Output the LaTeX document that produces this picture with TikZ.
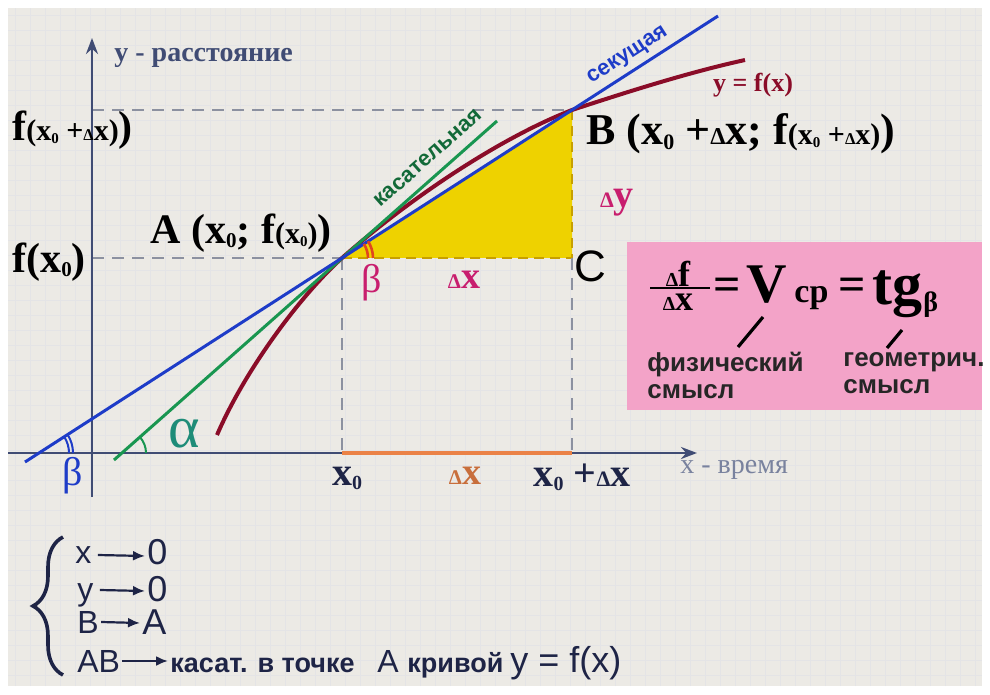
\documentclass[tikz,border=0pt]{standalone}
\usepackage{fontspec}
\usepackage{graphicx}
\setmainfont{Liberation Serif}
\setsansfont{Liberation Sans}
\usetikzlibrary{positioning,calc,arrows.meta,decorations.pathreplacing}

\definecolor{bgc}{RGB}{236,234,229}
\definecolor{gridc}{RGB}{228,228,230}
\definecolor{axisc}{RGB}{64,76,116}
\definecolor{secc}{RGB}{30,60,200}
\definecolor{tanc}{RGB}{25,150,80}
\definecolor{curvec}{RGB}{138,12,40}
\definecolor{dashc}{RGB}{140,145,160}
\definecolor{yellowc}{RGB}{238,210,0}
\definecolor{ochre}{RGB}{200,160,0}
\definecolor{magc}{RGB}{200,30,110}
\definecolor{orangec}{RGB}{235,130,70}
\definecolor{pinkc}{RGB}{243,163,200}
\definecolor{navy}{RGB}{30,36,70}
\definecolor{alphac}{RGB}{30,140,120}
\definecolor{arcc}{RGB}{225,70,30}

\newcommand{\dlt}{\scalebox{0.55}{Δ}}
\newcommand{\zs}{\raisebox{-0.1em}{\scalebox{0.5}{0}}}
\newcommand{\sml}[1]{{\fontsize{15}{15}\selectfont #1}}

\begin{document}
\begin{tikzpicture}[x=0.5pt,y=-0.5pt,
  every node/.style={inner sep=0pt},
  big/.style={font=\bfseries\fontsize{21}{23}\selectfont},
  dashln/.style={dashc, line width=0.9pt, dash pattern=on 6pt off 4pt},
  axis/.style={axisc, line width=1.3pt},
  sys/.style={navy, font=\sffamily\fontsize{16}{16}\selectfont, anchor=base west},
  sysbig/.style={navy, font=\sffamily\fontsize{18}{18}\selectfont, anchor=base west},
  syssm/.style={navy, font=\sffamily\bfseries\fontsize{13.5}{13.5}\selectfont, anchor=base west},
  sysarr/.style={navy, line width=1.1pt, -{Latex[length=6pt,width=5pt]}},
  mean/.style={font=\sffamily\bfseries\fontsize{13}{13.5}\selectfont, text=black!85, align=left, anchor=north west}]
\useasboundingbox (0,0) rectangle (990,695);
\fill[white] (0,0) rectangle (990,695);
\fill[bgc] (8,8) rectangle (982,686);
\draw[gridc, step=7.5pt] (8,8) grid (982,686);

\coordinate (A) at (342,258);
\coordinate (B) at (572,110);
\coordinate (C) at (572,258);
\coordinate (X0) at (342,453);
\coordinate (X1) at (572,453);
\coordinate (Y0) at (92,258);
\coordinate (Y1) at (92,110);
\coordinate (P) at (39,453);
\coordinate (Q) at (122,453);

\fill[yellowc] (A) -- (B) -- (C) -- cycle;
\draw[ochre, line width=0.9pt, dash pattern=on 5pt off 3pt] (B) -- (C) -- (A);
\draw[dashln] (Y1) -- (B);
\draw[dashln] (Y0) -- (A);
\draw[dashln] (A) -- (X0);
\draw[dashln] (C) -- (X1);

\draw[axis, -{Stealth[length=8pt,width=6pt]}] (8,453) -- (697,453);
\draw[axis, -{Stealth[length=8pt,width=6pt]}] (92,497) -- (92,38);
\draw[orangec, line width=2pt] (X0) -- (X1);

\draw[curvec, line width=2pt] (217,435) .. controls (245,370) and (300,296) .. (A)
  .. controls (410,198) and (500,138) .. (B) .. controls (630,91) and (690,72) .. (745,60);
\draw[tanc, line width=1.5pt] (114,460) -- (497,121);
\draw[secc, line width=1.5pt] (25,462) -- (718,16);

\draw[arcc, line width=1.3pt] (A) ++(13pt,0) arc[start angle=0, end angle=32.8, radius=13pt];
\draw[arcc, line width=1.3pt] (A) ++(15.5pt,0) arc[start angle=0, end angle=32.8, radius=15.5pt];
\draw[secc, line width=1pt] (P) ++(15pt,0) arc[start angle=0, end angle=32.8, radius=15pt];
\draw[secc, line width=1pt] (P) ++(17pt,0) arc[start angle=0, end angle=32.8, radius=17pt];
\draw[tanc, line width=1pt] (Q) ++(12pt,0) arc[start angle=0, end angle=41.5, radius=12pt];

\node[axisc, font=\bfseries\fontsize{14}{14}\selectfont, anchor=west] (ylab) at (114,58) {y - расстояние};
\node[axisc!70, font=\fontsize{14}{14}\selectfont, anchor=west] (xlab) at (680,470) {x - время};

\node[big, anchor=west] (fdx) at (12,130) {f\sml{(x\zs{} +\dlt x)})};
\node[big, anchor=west] (fx) at (12,262) {f(x\zs)};
\node[big, anchor=west] (Alab) at (150,233) {A (x\zs; f\sml{(x\zs)})};
\node[big, font=\bfseries\fontsize{22}{24}\selectfont, anchor=west] (Blab) at (586,134) {B (x\zs{} +\dlt x; f\sml{(x\zs{} +\dlt x)})};
\node[font=\sffamily\fontsize{22}{22}\selectfont] (Clab) at (590,266) {C};
\node[curvec, font=\bfseries\fontsize{13}{13}\selectfont] (flab) at (753,85) {y = f(x)};
\node[magc, font=\bfseries\fontsize{20}{20}\selectfont] (dy) at (617,203) {\dlt y};
\node[magc, font=\fontsize{20}{20}\selectfont] (bA) at (372,283) {β};
\node[magc, font=\bfseries\fontsize{19}{19}\selectfont] (dxA) at (464,280) {\dlt x};
\node[secc, font=\fontsize{20}{20}\selectfont] (bP) at (73,476) {β};
\node[alphac, font=\fontsize{30}{30}\selectfont] (al) at (184,434) {α};

\node[navy, font=\bfseries\fontsize{20}{20}\selectfont] (x0) at (347,478) {x\zs};
\node[orangec!85!black, font=\bfseries\fontsize{19}{19}\selectfont] (dxo) at (465,476) {\dlt x};
\node[navy, font=\bfseries\fontsize{20}{20}\selectfont] (x1) at (582,477) {x\zs{} +\dlt x};

\node[secc, rotate=32.8, font=\sffamily\bfseries\fontsize{11}{11}\selectfont] (sec) at (628,56) {секущая};
\node[tanc!70!black, rotate=41.5, font=\sffamily\bfseries\fontsize{11}{11}\selectfont] (tan) at (428,158) {касательная};

\fill[pinkc] (627,242) rectangle (982,410);
\node[font=\bfseries\fontsize{18}{18}\selectfont] (num) at (678,274) {\dlt f};
\node[font=\bfseries\fontsize{18}{18}\selectfont] (den) at (678,302) {\dlt x};
\draw[line width=1.4pt] (650,288) -- (710,288);
\node[font=\bfseries\fontsize{24}{24}\selectfont, anchor=base west] (eqa) at (713,300) {=};
\node[font=\bfseries\fontsize{28}{28}\selectfont, anchor=base west] (vel) at (746,302) {V};
\node[font=\bfseries\fontsize{17}{17}\selectfont, anchor=base west] (cp) at (794,302) {ср};
\node[font=\bfseries\fontsize{24}{24}\selectfont, anchor=base west] (eqb) at (838,300) {=};
\node[font=\bfseries\fontsize{30}{30}\selectfont, anchor=base west] (tg) at (872,305) {tg};
\node[font=\bfseries\fontsize{14}{14}\selectfont, anchor=base west] (tb) at (923,311) {β};
\coordinate (s1a) at (763,317);
\coordinate (s1b) at (738,347);
\coordinate (s2a) at (902,330);
\coordinate (s2b) at (887,348);
\draw[line width=1.6pt] (s1a) -- (s1b);
\draw[line width=1.6pt] (s2a) -- (s2b);
\node[mean] (phys) at (647,352) {физический\\смысл};
\node[mean] (geom) at (843,352) {геометрич.\\смысл};

\draw[navy, line width=1.8pt, decorate, decoration={brace, amplitude=15pt}] (63,675) -- (63,537);
\node[sys] (r1a) at (75,563) {x};
\node[sysbig] (r1b) at (147,564) {0};
\node[sys] (r2a) at (77,600) {y};
\node[sysbig] (r2b) at (147,601) {0};
\node[sys] (r3a) at (77,633) {B};
\node[sysbig] (r3b) at (142,634) {A};
\node[sys] (r4a) at (77,672) {AB};
\node[syssm] (r4b) at (170,672) {касат. в точке};
\node[sys] (r4c) at (377,672) {А};
\node[syssm] (r4d) at (407,672) {кривой};
\node[sys, font=\sffamily\fontsize{18}{18}\selectfont] (r4e) at (510,672) {y = f(x)};
\draw[sysarr] ([xshift=3pt,yshift=4pt]r1a.base east) -- ([xshift=-1pt,yshift=4pt]r1b.base west);
\draw[sysarr] ([xshift=3pt,yshift=5pt]r2a.base east) -- ([xshift=-1pt,yshift=5pt]r2b.base west);
\draw[sysarr] ([xshift=1pt,yshift=5.5pt]r3a.base east) -- ([xshift=-1pt,yshift=5.5pt]r3b.base west);
\draw[sysarr] ([xshift=1pt,yshift=5.5pt]r4a.base east) -- ([xshift=-1pt,yshift=5.5pt]r4b.base west);
\end{tikzpicture}
\end{document}
